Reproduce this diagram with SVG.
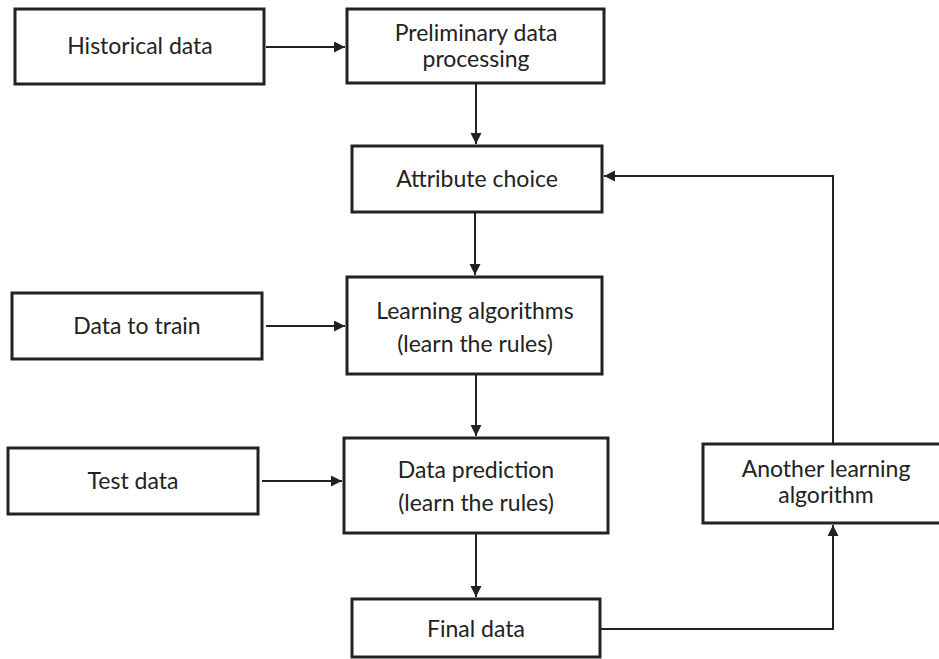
<svg xmlns="http://www.w3.org/2000/svg" width="939" height="659" viewBox="0 0 939 659">
<style>
.box{fill:#fff;stroke:#222;stroke-width:3}
.t{font-family:Lato,"Open Sans","Noto Sans",sans-serif;font-size:23px;fill:#222;text-anchor:middle}
.c{fill:none;stroke:#222;stroke-width:2}
</style>
<defs>
<marker id="ah" markerUnits="userSpaceOnUse" markerWidth="12" markerHeight="12" refX="11" refY="5.5" orient="auto">
<path d="M0,0 L11,5.5 L0,11 z" fill="#222"/>
</marker>
</defs>
<rect width="939" height="659" fill="#fff"/>
<g id="connectors">
<line class="c" x1="266" y1="47" x2="345" y2="47" marker-end="url(#ah)"/>
<line class="c" x1="476" y1="84" x2="476" y2="144" marker-end="url(#ah)"/>
<line class="c" x1="475" y1="213" x2="475" y2="275" marker-end="url(#ah)"/>
<line class="c" x1="266" y1="326" x2="345" y2="326" marker-end="url(#ah)"/>
<line class="c" x1="476" y1="375" x2="476" y2="436" marker-end="url(#ah)"/>
<line class="c" x1="262" y1="481" x2="342" y2="481" marker-end="url(#ah)"/>
<line class="c" x1="476" y1="534" x2="476" y2="597" marker-end="url(#ah)"/>
<polyline class="c" points="601,629 833,629 833,525" marker-end="url(#ah)"/>
<polyline class="c" points="833,443 833,176 604,176" marker-end="url(#ah)"/>
</g>
<g id="historical">
<rect class="box" x="15" y="9" width="249" height="75"/>
<text class="t" x="140" y="54">Historical data</text>
</g>
<g id="preliminary">
<rect class="box" x="347" y="9" width="257" height="74"/>
<text class="t" x="476" y="41">Preliminary data</text>
<text class="t" x="476" y="67">processing</text>
</g>
<g id="attribute">
<rect class="box" x="352" y="146" width="250" height="66"/>
<text class="t" x="477" y="187">Attribute choice</text>
</g>
<g id="train">
<rect class="box" x="12" y="293" width="250" height="66"/>
<text class="t" x="137" y="334">Data to train</text>
</g>
<g id="learning">
<rect class="box" x="347" y="277" width="255" height="97"/>
<text class="t" x="475" y="319">Learning algorithms</text>
<text class="t" x="475" y="352">(learn the rules)</text>
</g>
<g id="test">
<rect class="box" x="8" y="448" width="250" height="66"/>
<text class="t" x="133" y="489">Test data</text>
</g>
<g id="prediction">
<rect class="box" x="344" y="438" width="264" height="95"/>
<text class="t" x="476" y="478">Data prediction</text>
<text class="t" x="476" y="511">(learn the rules)</text>
</g>
<g id="final">
<rect class="box" x="352" y="599" width="248" height="58"/>
<text class="t" x="476" y="637">Final data</text>
</g>
<g id="another">
<rect class="box" x="703" y="444" width="245" height="79"/>
<text class="t" x="826" y="477">Another learning</text>
<text class="t" x="826" y="503">algorithm</text>
</g>
</svg>
